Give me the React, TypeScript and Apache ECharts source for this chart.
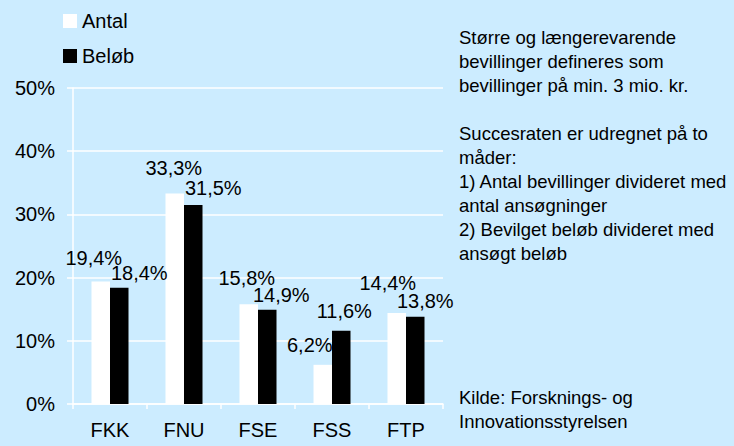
import React, { useEffect, useRef } from "react";
import * as echarts from "echarts";

const categories = ["FKK", "FNU", "FSE", "FSS", "FTP"];
const antal = [19.4, 33.3, 15.8, 6.2, 14.4];
const beloeb = [18.4, 31.5, 14.9, 11.6, 13.8];
const seriesNames = ["Antal", "Beløb"];
const noteText = [
  "Større og længerevarende",
  "bevillinger defineres som",
  "bevillinger på min. 3 mio. kr.",
  "",
  "Succesraten er udregnet på to",
  "måder:",
  "1) Antal bevillinger divideret med",
  "antal ansøgninger",
  "2) Bevilget beløb divideret med",
  "ansøgt beløb",
];
const sourceText = ["Kilde: Forsknings- og", "Innovationsstyrelsen"];

// label placement (layout only)
const antalLabelOffsets = [[-7, -8], [-1, -11], [-2, -11], [-13, -5], [-9, -15]];
const beloebLabelOffsets = [[20, 0], [20, -2], [14, 0], [3, -5], [10, -1]];

const FONT = "Liberation Sans, Arial, Helvetica, sans-serif";
const fmt = (v: number) => v.toFixed(1).replace(".", ",") + "%";

export default function App() {
  const ref = useRef<HTMLDivElement>(null);
  useEffect(() => {
    if (!ref.current) return;
    const chart = echarts.init(ref.current, undefined, { renderer: "svg" });
    const labelBase = {
      show: true,
      position: "top" as const,
      fontSize: 20,
      fontFamily: FONT,
      color: "#000",
      formatter: (p: any) => fmt(p.value),
    };
    chart.setOption({
      animation: false,
      backgroundColor: "#CCECFF",
      textStyle: { fontFamily: FONT },
      legend: {
        data: seriesNames,
        orient: "vertical",
        left: 58,
        top: 6,
        icon: "rect",
        itemWidth: 14,
        itemHeight: 14,
        itemGap: 15,
        itemStyle: { borderWidth: 0 },
        textStyle: { fontSize: 20, color: "#000", fontFamily: FONT },
      },
      grid: { left: 73, right: 291, top: 88, bottom: 42, containLabel: false },
      xAxis: {
        type: "category",
        data: categories,
        axisLine: { lineStyle: { color: "#FFFFFF", width: 1.5 } },
        axisTick: { show: true, length: 5, inside: false, lineStyle: { color: "#FFFFFF", width: 1.5 } },
        axisLabel: { fontSize: 20, color: "#000", fontFamily: FONT, margin: 16 },
      },
      yAxis: {
        type: "value",
        min: 0,
        max: 50,
        interval: 10,
        axisLine: { show: true, lineStyle: { color: "#FFFFFF", width: 1.5 } },
        axisTick: { show: true, length: 6, lineStyle: { color: "#FFFFFF", width: 1.5 } },
        splitLine: { show: true, lineStyle: { color: "#FFFFFF", width: 1.5 } },
        axisLabel: {
          fontSize: 20,
          color: "#000",
          fontFamily: FONT,
          margin: 18,
          formatter: "{value}%",
        },
      },
      series: [
        {
          name: seriesNames[0],
          type: "bar",
          barWidth: "25%",
          barGap: "0%",
          itemStyle: { color: "#FFFFFF" },
          label: labelBase,
          data: antal.map((v, i) => ({ value: v, label: { offset: antalLabelOffsets[i] } })),
        },
        {
          name: seriesNames[1],
          type: "bar",
          barWidth: "25%",
          barGap: "0%",
          itemStyle: { color: "#000000" },
          label: labelBase,
          data: beloeb.map((v, i) => ({ value: v, label: { offset: beloebLabelOffsets[i] } })),
        },
      ],
      graphic: [
        {
          type: "text",
          left: 459,
          top: 26,
          style: {
            text: noteText.join("\n"),
            font: `18.5px ${FONT}`,
            lineHeight: 23.9,
            fill: "#000",
          },
        },
        {
          type: "text",
          left: 459,
          top: 386,
          style: {
            text: sourceText.join("\n"),
            font: `18.5px ${FONT}`,
            lineHeight: 23.9,
            fill: "#000",
          },
        },
      ],
    });
    return () => chart.dispose();
  }, []);
  return (
    <div
      ref={ref}
      style={{ position: "fixed", left: 0, top: 0, width: 734, height: 446 }}
    />
  );
}
